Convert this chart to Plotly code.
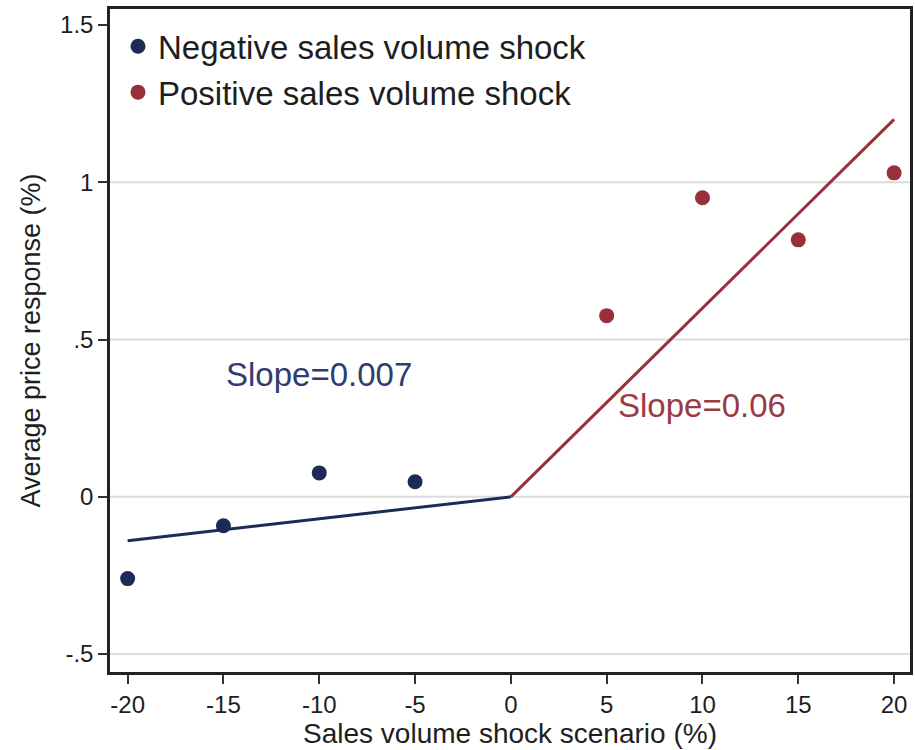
import plotly.graph_objects as go

# Data
neg_x = [-20, -15, -10, -5]
neg_y = [-0.26, -0.092, 0.076, 0.048]
pos_x = [5, 10, 15, 20]
pos_y = [0.576, 0.951, 0.817, 1.03]
neg_slope = 0.007
pos_slope = 0.06
neg_line_x = [-20, 0]
pos_line_x = [0, 20]
x_ticks = [-20, -15, -10, -5, 0, 5, 10, 15, 20]
x_ticklabels = ["-20", "-15", "-10", "-5", "0", "5", "10", "15", "20"]
y_ticks = [-0.5, 0, 0.5, 1, 1.5]
y_ticklabels = ["-.5", "0", ".5", "1", "1.5"]
grid_vals = [-0.5, 0, 0.5, 1]

NAVY = "#1c2a58"
MAROON = "#983039"
FONT = "Liberation Sans, Arial, sans-serif"
TXT = "#1e1e1e"

fig = go.Figure()

fig.add_trace(go.Scatter(
    x=neg_line_x, y=[neg_slope * v for v in neg_line_x], mode="lines",
    line=dict(color=NAVY, width=3), showlegend=False, hoverinfo="skip"))
fig.add_trace(go.Scatter(
    x=pos_line_x, y=[pos_slope * v for v in pos_line_x], mode="lines",
    line=dict(color=MAROON, width=3), showlegend=False, hoverinfo="skip"))

fig.add_trace(go.Scatter(
    x=neg_x, y=neg_y, mode="markers", name="Negative sales volume shock",
    marker=dict(color=NAVY, size=15), legendgroup="a"))
fig.add_trace(go.Scatter(
    x=pos_x, y=pos_y, mode="markers", name="Positive sales volume shock",
    marker=dict(color=MAROON, size=15), legendgroup="b"))

for g in grid_vals:
    fig.add_shape(type="line", xref="paper", x0=0, x1=1, yref="y", y0=g, y1=g,
                  line=dict(color="#dcdcdc", width=2), layer="below")

fig.add_annotation(x=-10, y=0.388, text="Slope=0.007", showarrow=False,
                   font=dict(size=33, color="#2e3d6e", family=FONT))
fig.add_annotation(x=10, y=0.29, text="Slope=0.06", showarrow=False,
                   font=dict(size=33, color="#9a3a44", family=FONT))

fig.update_layout(
    width=915, height=750,
    margin=dict(l=110, r=2, t=9, b=78),
    paper_bgcolor="white", plot_bgcolor="white",
    font=dict(family=FONT, color=TXT),
    legend=dict(x=0.01, y=0.986, xanchor="left", yanchor="top",
                font=dict(size=33, color=TXT, family=FONT),
                bgcolor="rgba(0,0,0,0)", tracegroupgap=0,
                itemwidth=30),
    xaxis=dict(range=[-20.92, 20.83], tickvals=x_ticks, ticktext=x_ticklabels,
               ticks="outside", ticklen=9, tickwidth=2, tickcolor="#333333",
               showgrid=False, zeroline=False, showline=True, linewidth=2.5,
               linecolor="#222222", mirror=True,
               tickfont=dict(size=24, color=TXT),
               title=dict(text="Sales volume shock scenario (%)",
                          font=dict(size=28, color=TXT), standoff=0)),
    yaxis=dict(range=[-0.557, 1.551], tickvals=y_ticks, ticktext=y_ticklabels,
               ticks="outside", ticklen=9, tickwidth=2, tickcolor="#333333",
               showgrid=False, zeroline=False, showline=True, linewidth=2.5,
               linecolor="#222222", mirror=True,
               tickfont=dict(size=24, color=TXT),
               title=dict(text="Average price response (%)",
                          font=dict(size=27, color=TXT), standoff=12)),
)

fig.write_html("out.html")
